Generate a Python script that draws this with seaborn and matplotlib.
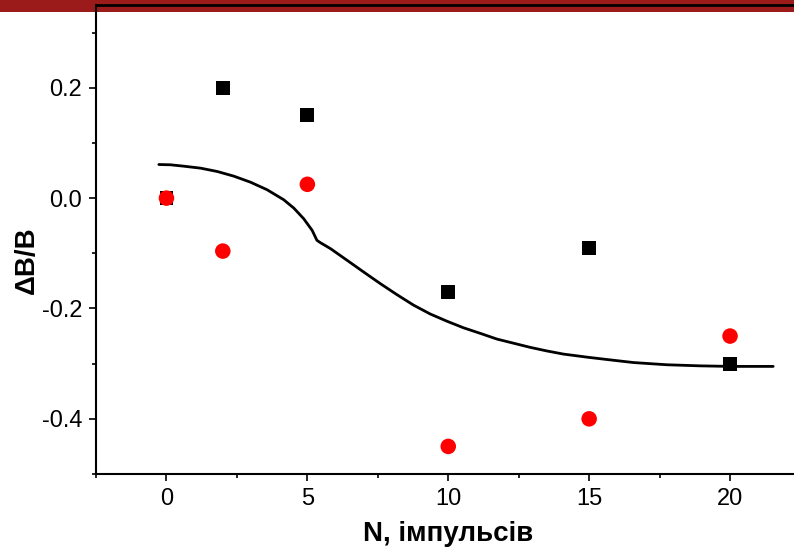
import matplotlib
matplotlib.use("Agg")
import numpy as np
import pandas as pd
import seaborn as sns
import matplotlib.pyplot as plt
from matplotlib.patches import Rectangle
from matplotlib.ticker import MultipleLocator, FixedLocator

# ---- data ----
n_pulses = [0, 2, 5, 10, 15, 20]
dB_black = [0.0, 0.20, 0.15, -0.17, -0.09, -0.30]
dB_red = [0.0, -0.096, 0.025, -0.45, -0.40, -0.25]

fit_x = [-0.27, 0.14, 0.61, 1.21, 1.80, 2.39, 2.98, 3.57, 4.16, 4.52, 4.87, 5.17,
         5.34, 5.46, 5.82, 6.41, 7.00, 7.59, 8.18, 8.77, 9.36, 9.95, 10.54,
         11.13, 11.73, 12.32, 12.91, 13.50, 14.09, 14.98, 15.80, 16.57, 17.75,
         18.94, 20.00, 21.53]
fit_y = [0.0609, 0.0604, 0.0579, 0.0543, 0.0483, 0.0398, 0.0289, 0.0152, -0.0029,
         -0.0181, -0.0373, -0.0584, -0.0765, -0.0807, -0.0915, -0.1127,
         -0.134, -0.155, -0.175, -0.194, -0.210, -0.223, -0.235, -0.245, -0.2555,
         -0.263, -0.2705, -0.277, -0.2827, -0.2886, -0.2935, -0.298, -0.302,
         -0.304, -0.305, -0.305]

x_major = [0, 5, 10, 15, 20]
y_major = [-0.4, -0.2, 0.0, 0.2]

sns.set_style("ticks")
plt.rcParams["font.family"] = ["Liberation Sans", "DejaVu Sans"]
plt.rcParams["axes.unicode_minus"] = False
plt.rcParams["text.color"] = "black"
plt.rcParams["axes.labelcolor"] = "black"
plt.rcParams["xtick.color"] = "black"
plt.rcParams["ytick.color"] = "black"

W, H = 794, 556
fig = plt.figure(figsize=(W / 100, H / 100), dpi=100)
fig.patch.set_facecolor("white")

# red slide band at the top
fig.add_artist(Rectangle((0, 1 - 12 / H), 1, 12 / H, transform=fig.transFigure,
                         facecolor="#9b1b1b", edgecolor="none", zorder=-1))

ax = fig.add_axes([96 / W, 82 / H, 704.5 / W, 469 / H])
ax.set_facecolor("none")

fit_df = pd.DataFrame({"x": fit_x, "y": fit_y})
blk_df = pd.DataFrame({"N": n_pulses, "dB": dB_black})
red_df = pd.DataFrame({"N": n_pulses, "dB": dB_red})

sns.lineplot(data=fit_df, x="x", y="y", sort=False, estimator=None, color="black",
             linewidth=2.0, ax=ax, zorder=2)
sns.scatterplot(data=blk_df, x="N", y="dB", marker="s", s=100, color="black",
                edgecolor="none", ax=ax, zorder=3)
sns.scatterplot(data=red_df, x="N", y="dB", marker="o", s=125, color="#ff0000",
                edgecolor="none", ax=ax, zorder=4)

ax.set_xlim(-2.5, 22.5)
ax.set_ylim(-0.5, 0.35)
ax.xaxis.set_major_locator(FixedLocator(x_major))
ax.xaxis.set_minor_locator(MultipleLocator(2.5))
ax.yaxis.set_major_locator(FixedLocator(y_major))
ax.yaxis.set_minor_locator(MultipleLocator(0.1))
ax.set_xticklabels([str(v) for v in x_major])
ax.set_yticklabels([f"{v:.1f}" for v in y_major])

for s in ax.spines.values():
    s.set_linewidth(1.5)
    s.set_color("black")
ax.spines["top"].set_linewidth(2.0)

ax.tick_params(which="major", direction="out", length=5, width=1.2, labelsize=17,
               pad=5, colors="black")
ax.tick_params(which="minor", direction="out", length=2.8, width=1.2)
ax.tick_params(top=False, right=False, which="both")

ax.set_xlabel("N, імпульсів", fontsize=20, fontweight="bold", labelpad=8)
ax.set_ylabel("ΔB/B", fontsize=20, fontweight="bold")
ax.yaxis.set_label_coords(-0.08, 0.456)

fig.savefig("out.png", dpi=100)
